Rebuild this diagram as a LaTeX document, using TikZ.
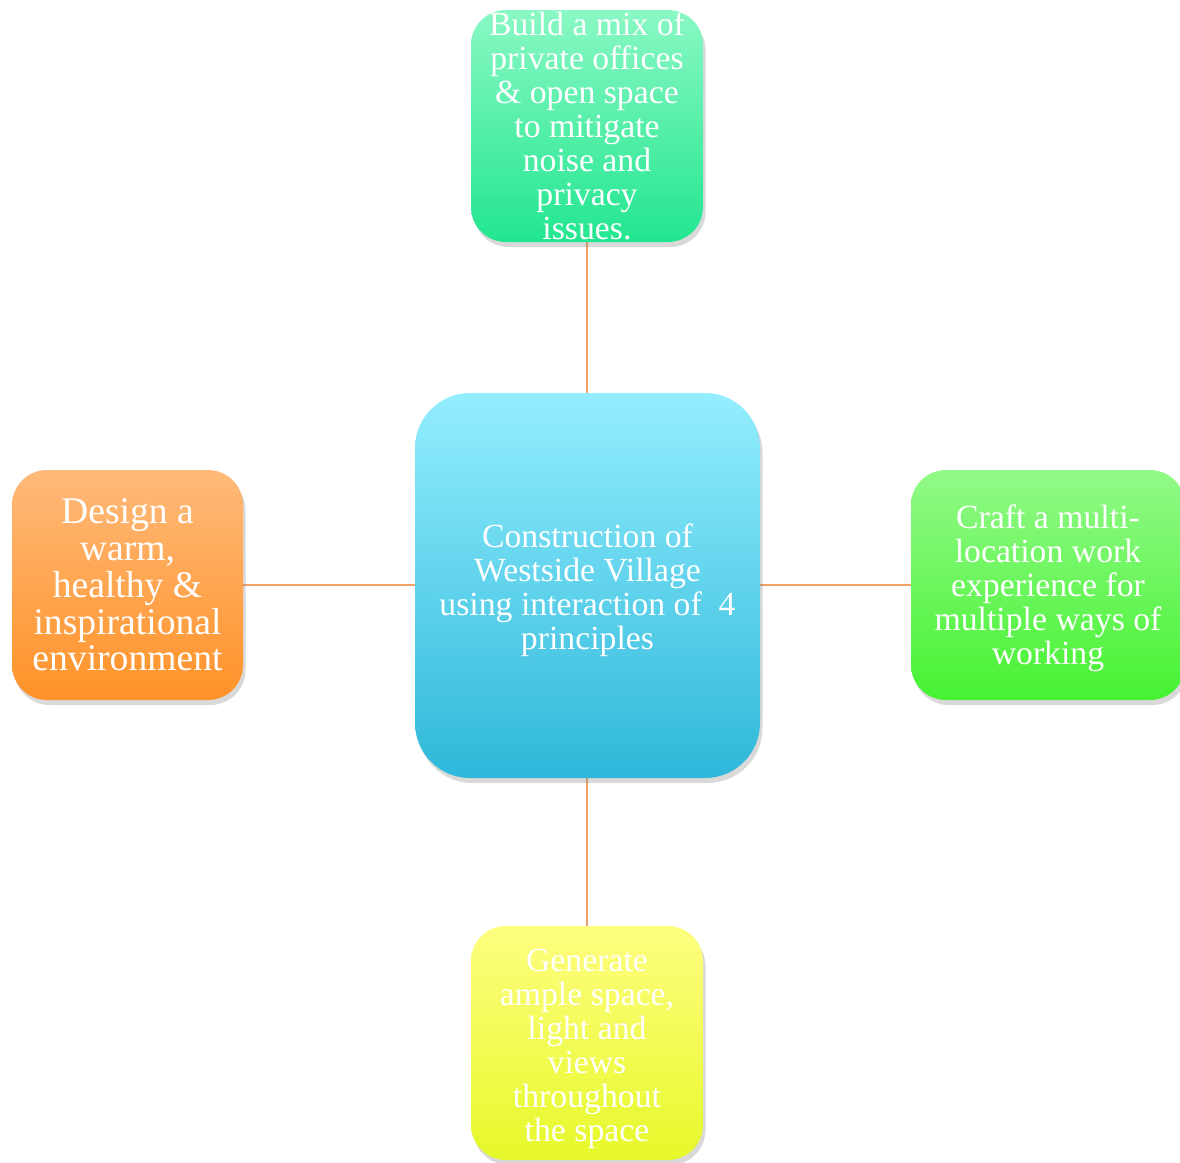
\documentclass[tikz,border=0pt]{standalone}
\usepackage{fontspec}
\setmainfont{Liberation Serif}
\usetikzlibrary{shadows}
\definecolor{lnc}{HTML}{F0A068}
\tikzset{
  box/.style={rounded corners=0.7cm, inner sep=0pt,
    drop shadow={opacity=0.3, shadow xshift=0.05cm, shadow yshift=-0.1cm}},
  txt/.style={align=center, text=white, inner sep=0pt, font=\fontsize{19.2}{19.4}\selectfont},
  conn/.style={draw=lnc, line width=0.9pt}
}
\begin{document}
\begin{tikzpicture}
\useasboundingbox (0,0) rectangle (23.6,-23.26);
\draw[conn] (11.74,-2.52) -- (11.74,-20.86);
\draw[conn] (2.55,-11.7) -- (20.96,-11.7);
\node[box, minimum width=4.64cm, minimum height=4.64cm, top color={rgb,255:red,138;green,248;blue,196}, bottom color={rgb,255:red,34;green,230;blue,144},
 label={[txt]center:{Build a mix of\\private offices\\\& open space\\to mitigate\\noise and\\privacy\\issues.}}] (top) at (11.74,-2.52) {};
\node[box, rounded corners=1.1cm, minimum width=6.9cm, minimum height=7.7cm, top color={rgb,255:red,148;green,238;blue,254}, bottom color={rgb,255:red,46;green,184;blue,218},
 label={[txt, yshift=-0.09cm]center:{Construction of\\Westside Village\\using interaction of~~4\\principles}}] (c) at (11.75,-11.71) {};
\node[box, minimum width=4.62cm, minimum height=4.6cm, top color={rgb,255:red,255;green,186;blue,122}, bottom color={rgb,255:red,255;green,146;blue,40},
 label={[txt, font=\fontsize{21.4}{20.9}\selectfont]center:{Design a\\warm,\\healthy \&\\inspirational\\environment}}] (l) at (2.55,-11.7) {};
\node[box, minimum width=5.48cm, minimum height=4.6cm, top color={rgb,255:red,146;green,250;blue,136}, bottom color={rgb,255:red,70;green,242;blue,50},
 label={[txt, yshift=-0.06cm]center:{Craft a multi-\\location work\\experience for\\multiple ways of\\working}}] (r) at (20.96,-11.7) {};
\node[box, minimum width=4.64cm, minimum height=4.68cm, top color={rgb,255:red,254;green,254;blue,128}, bottom color={rgb,255:red,230;green,248;blue,42},
 label={[txt, yshift=-0.12cm]center:{Generate\\ample space,\\light and\\views\\throughout\\the space}}] (b) at (11.74,-20.86) {};
\end{tikzpicture}
\end{document}
